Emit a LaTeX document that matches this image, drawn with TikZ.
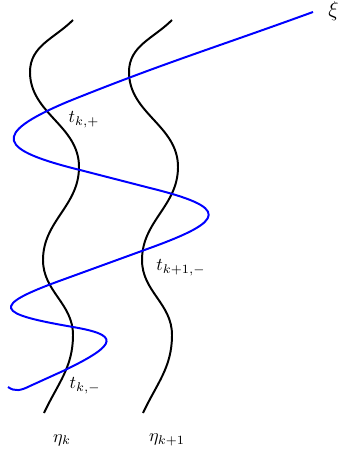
\documentclass[tikz,border=0pt]{standalone}
\begin{document}
\begin{tikzpicture}[x=0.556pt,y=-0.556pt,
  curveline/.style={line width=1.1pt,black},
  blueline/.style={line width=1.1pt,blue},
  lbl/.style={inner sep=0pt}]
\useasboundingbox (0,0) rectangle (339,457);
% eta_k
\draw[curveline] (73,20) to[out=225,in=90] (30,72) to[out=270,in=90] (79,167)
  to[out=270,in=90] (43,260) to[out=270,in=90] (73,335) to[out=270,in=65] (44,413);
% eta_{k+1}
\draw[curveline] (172,20) to[out=225,in=90] (129,72) to[out=270,in=90] (178,167)
  to[out=270,in=90] (142,260) to[out=270,in=90] (172,335) to[out=270,in=65] (143,413);
% xi
\draw[blueline] (313,12) to[out=200,in=22] (67,102)
  .. controls (-10.3,134.8) and (-1.5,149.8) .. (80,170)
  -- (150,188)
  .. controls (229.5,207.7) and (227,220.1) .. (150,248)
  -- (62,280)
  .. controls (-11.3,306.5) and (-3.8,313.7) .. (73,327)
  .. controls (117.3,334.7) and (121.5,343) .. (63,371)
  -- (30,386) .. controls (21,390.5) and (15,392) .. (8,387);
\node[lbl,anchor=west,font=\large] (xi) at (328,11) {$\xi$};
\node[lbl] (tkp) at (84,120) {$t_{k,+}$};
\node[lbl] (tk1m) at (181,268) {$t_{k+1,-}$};
\node[lbl] (tkm) at (85,386) {$t_{k,-}$};
\node[lbl] (etak) at (62,440) {$\eta_k$};
\node[lbl] (etak1) at (167,440) {$\eta_{k+1}$};
\end{tikzpicture}
\end{document}
